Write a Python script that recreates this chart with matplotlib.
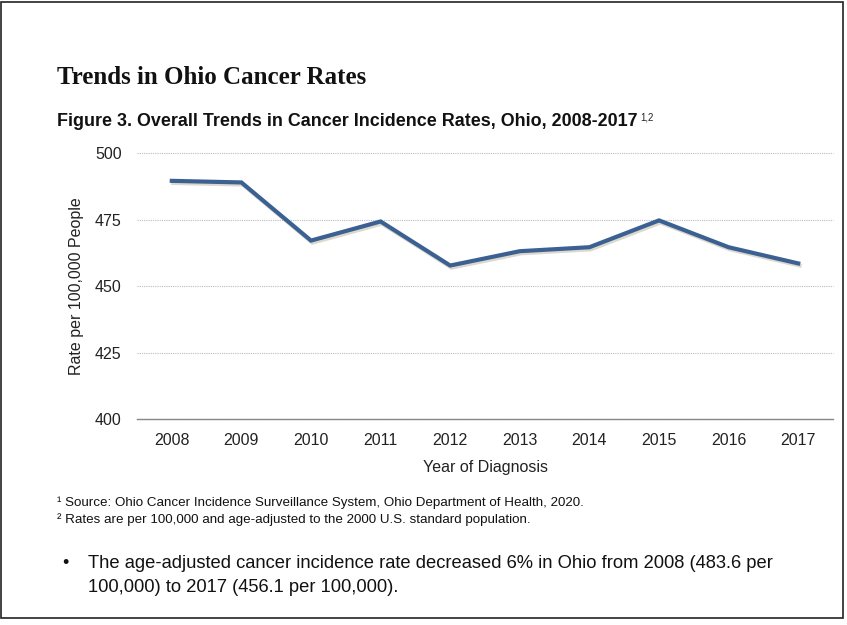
import matplotlib.pyplot as plt
import matplotlib.patheffects as pe
from matplotlib.patches import Rectangle

# data
years = ["2008", "2009", "2010", "2011", "2012", "2013", "2014", "2015", "2016", "2017"]
rates = [489.7, 489.1, 467.2, 474.4, 457.8, 463.2, 464.7, 474.8, 464.7, 458.6]
y_ticks = [400, 425, 450, 475, 500]

line_color = "#3B6193"
text_color = "#222222"

W, H = 847, 625
fig = plt.figure(figsize=(W / 100, H / 100), dpi=100)

# axes placed in pixel terms: left 137, right 833, top 153.5, bottom 419
ax = fig.add_axes([137 / W, 1 - 419 / H, (833 - 137) / W, (419 - 153.5) / H])
x = range(len(years))
ax.plot(x, rates, color=line_color, lw=3.0, solid_joinstyle="miter",
        path_effects=[pe.SimpleLineShadow(offset=(1, -1.5), shadow_color="#a09070", alpha=0.35),
                      pe.Normal()], zorder=3)
ax.set_xlim(-0.5, len(years) - 0.5)
ax.set_ylim(400, 500)
ax.set_yticks(y_ticks)
ax.set_xticks(list(x))
ax.set_xticklabels(years)
ax.grid(axis="y", color="#BBBBBB", linestyle=(0, (1, 1)), linewidth=0.8)
for gl in ax.get_ygridlines():
    gl.set_clip_on(False)
for s in ["top", "right", "left"]:
    ax.spines[s].set_visible(False)
ax.spines["bottom"].set_color("#888888")
ax.spines["bottom"].set_linewidth(1.0)
ax.tick_params(length=0, labelsize=11.5, colors=text_color, pad=10)
for lab in ax.get_xticklabels() + ax.get_yticklabels():
    lab.set_family("Liberation Sans")
ax.tick_params(axis="y", pad=11)
ax.set_ylabel("Rate per 100,000 People", fontsize=11.5, family="Liberation Sans",
              color=text_color, labelpad=8)
ax.set_xlabel("Year of Diagnosis", fontsize=11.5, family="Liberation Sans",
              color=text_color, labelpad=9)

# titles
fig.text(57 / W, 1 - 77 / H, "Trends in Ohio Cancer Rates", family="Liberation Serif",
         fontweight="bold", fontsize=18, color="#111111", va="center")
fig.text(57 / W, 1 - 122 / H, "Figure 3. Overall Trends in Cancer Incidence Rates, Ohio, 2008-2017",
         family="Liberation Sans", fontweight="bold", fontsize=12.9, color="#111111", va="center")
fig.text(640 / W, 1 - 117 / H, "1,2", family="Liberation Sans", fontsize=7, color="#222222",
         va="center")

# footnotes
fig.text(57 / W, 1 - 503 / H, "\u00b9 Source: Ohio Cancer Incidence Surveillance System, Ohio Department of Health, 2020.",
         family="Liberation Sans", fontsize=9.6, color="#111111", va="center")
fig.text(57 / W, 1 - 520 / H, "\u00b2 Rates are per 100,000 and age-adjusted to the 2000 U.S. standard population.",
         family="Liberation Sans", fontsize=9.6, color="#111111", va="center")

# bullet text
fig.text(62 / W, 1 - 564 / H, "\u2022", family="Liberation Sans", fontsize=13, color="#111111", va="center")
fig.text(88 / W, 1 - 563 / H, "The age-adjusted cancer incidence rate decreased 6% in Ohio from 2008 (483.6 per",
         family="Liberation Sans", fontsize=13.2, color="#111111", va="center")
fig.text(88 / W, 1 - 588 / H, "100,000) to 2017 (456.1 per 100,000).",
         family="Liberation Sans", fontsize=13.2, color="#111111", va="center")

# page frame
fig.patches.append(Rectangle((1 / W, 0.012), (W - 5) / W, 0.985, transform=fig.transFigure,
                             fill=False, edgecolor="#222222", linewidth=1.2))

fig.savefig("out.png", dpi=100)
